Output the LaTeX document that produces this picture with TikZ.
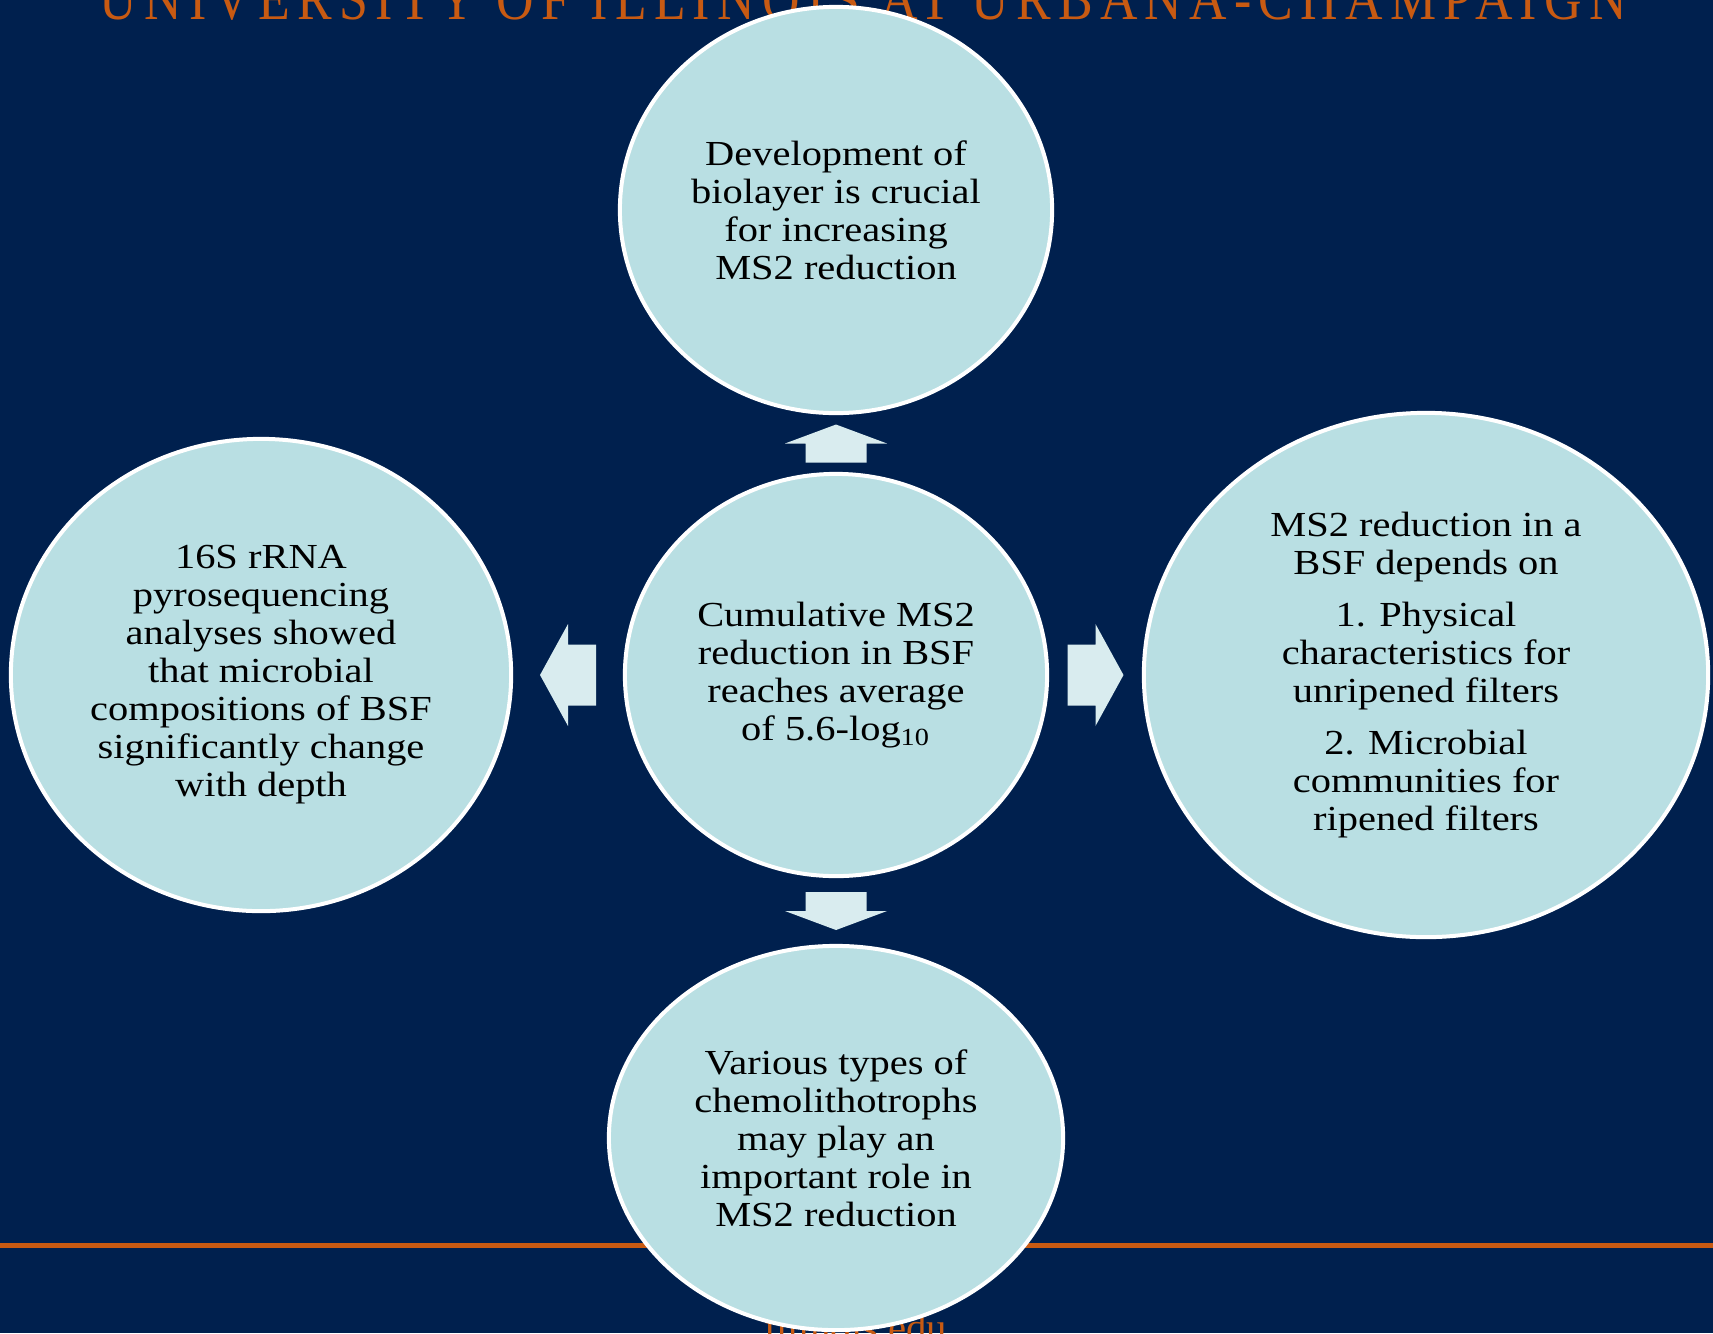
\documentclass[tikz,border=0pt]{standalone}
\usepackage{fontspec}
\usepackage{graphicx}
\setmainfont{Liberation Serif}[FakeStretch=1.15]
\newfontfamily\headfont{Liberation Serif}[LetterSpace=14]
\newfontfamily\webfont{Liberation Serif}
\usetikzlibrary{positioning, calc, shapes.geometric}

\definecolor{uinavy}{HTML}{00204E}
\definecolor{uiorange}{HTML}{C85A12}
\definecolor{bubblefill}{HTML}{B9DFE3}
\definecolor{arrowfill}{HTML}{D9ECEF}

\tikzset{
    bubble/.style={ellipse, draw=white, line width=0.04cm, fill=bubblefill,
        inner sep=0pt, align=center, text=black,
        font=\fontsize{10}{10.8}\selectfont},
    blockarrow/.style={fill=arrowfill, draw=none}
}

\begin{document}
\begin{tikzpicture}[x=0.01cm, y=0.01cm]
        \useasboundingbox (0,0) rectangle (1713,-1333);
        \clip (0,0) rectangle (1713,-1333);
        \fill[uinavy] (0,0) rectangle (1713,-1333);

        % banner and footer
        \node[anchor=base west, inner sep=0pt, text=uiorange] (univ) at (99,-19)
            {\resizebox{15.26cm}{0.40cm}{\headfont UNIVERSITY OF ILLINOIS AT URBANA-CHAMPAIGN}};
        \draw[uiorange, line width=0.05cm] (0,-1245) -- (1713,-1245);
        \node[anchor=base east, inner sep=0pt, text=uiorange, font=\webfont\fontsize{11.6}{13}\selectfont] (web) at (948,-1341) {illinois.edu};

        % bubbles
        \node[bubble, minimum width=4.32cm, minimum height=4.06cm] (biolayer) at (836,-210)
            {Development of\\ biolayer is crucial\\ for increasing\\ MS2 reduction};
        \node[bubble, minimum width=4.22cm, minimum height=4.02cm] (cumul) at (836,-675)
            {Cumulative MS2\\ reduction in BSF\\ reaches average\\ of 5.6-log\textsubscript{10}};
        \node[bubble, minimum width=5.00cm, minimum height=4.72cm] (pyroseq) at (261,-675)
            {16S rRNA\\ pyrosequencing\\ analyses showed\\ that microbial\\ compositions of BSF\\ significantly change\\ with depth};
        \node[bubble, minimum width=5.64cm, minimum height=5.24cm] (depends) at (1426,-675)
            {MS2 reduction in a\\ BSF depends on\\[4pt] 1. Physical\\ characteristics for\\ unripened filters\\[4pt] 2. Microbial\\ communities for\\ ripened filters};
        \node[bubble, minimum width=4.54cm, minimum height=3.84cm] (chemo) at (836,-1138)
            {Various types of\\ chemolithotrophs\\ may play an\\ important role in\\ MS2 reduction};

        % block arrows between the bubbles
        \coordinate (upa) at ($(cumul.north)!0.5!(biolayer.south)$);
        \coordinate (downa) at ($(cumul.south)!0.5!(chemo.north)$);
        \coordinate (lefta) at ($(cumul.west)!0.5!(pyroseq.east)$);
        \coordinate (righta) at ($(cumul.east)!0.5!(depends.west)$);

        \begin{scope}[shift={(upa)}]
            \fill[blockarrow] (-30.5,-19) -- (-30.5,0) -- (-51,0) -- (0,19) -- (51,0) -- (30.5,0) -- (30.5,-19) -- cycle;
        \end{scope}
        \begin{scope}[shift={(downa)}]
            \fill[blockarrow] (-30.5,19) -- (-30.5,0) -- (-51,0) -- (0,-19) -- (51,0) -- (30.5,0) -- (30.5,19) -- cycle;
        \end{scope}
        \begin{scope}[shift={(righta)}]
            \fill[blockarrow] (-28,30.5) -- (0,30.5) -- (0,51) -- (28,0) -- (0,-51) -- (0,-30.5) -- (-28,-30.5) -- cycle;
        \end{scope}
        \begin{scope}[shift={(lefta)}]
            \fill[blockarrow] (28,30.5) -- (0,30.5) -- (0,51) -- (-28,0) -- (0,-51) -- (0,-30.5) -- (28,-30.5) -- cycle;
        \end{scope}
    \end{tikzpicture}
\end{document}
